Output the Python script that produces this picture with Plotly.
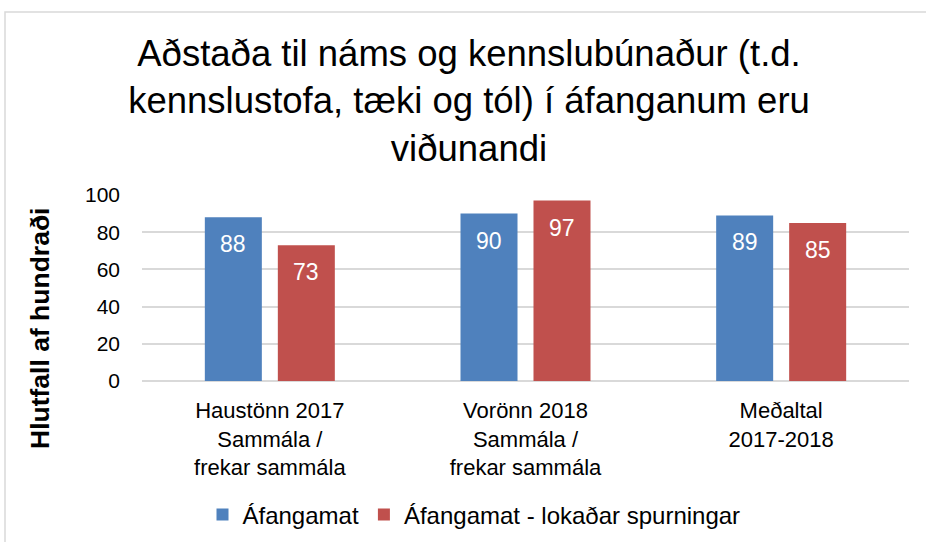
import plotly.graph_objects as go

categories = ["Haustönn 2017<br>Sammála /<br>frekar sammála",
              "Vorönn 2018<br>Sammála /<br>frekar sammála",
              "Meðaltal<br>2017-2018"]
afangamat = [88, 90, 89]
lokadar = [73, 97, 85]
series_names = ["Áfangamat", "Áfangamat - lokaðar spurningar"]
y_ticks = [0, 20, 40, 60, 80, 100]

FONT = "Liberation Sans, Arial, sans-serif"
COLORS = ["#4f81bd", "#c0504d"]

fig = go.Figure()
for name, vals, col in zip(series_names, [afangamat, lokadar], COLORS):
    fig.add_trace(go.Bar(x=categories, y=vals, name=name,
                         marker=dict(color=col, line=dict(width=0))))

L, R, T, B = 142, 17, 195, 161
W, H = 926, 542
pw, ph = W - L - R, H - T - B

def px(x):
    return (x - L) / pw

def py(y):
    return (H - B - y) / ph

annotations = [dict(text="<b>Hlutfall af hundraði</b>", textangle=-90, xref="paper", yref="paper",
                    x=px(40), y=py(329), xanchor="center", yanchor="middle", showarrow=False,
                    font=dict(size=26.5, family=FONT))]
for vals, shift in [(afangamat, -36.5), (lokadar, 36.5)]:
    for c, v in zip(categories, vals):
        annotations.append(dict(x=c, y=v, xref="x", yref="y", text=str(v), showarrow=False,
                                xanchor="center", yanchor="top", xshift=shift, yshift=-12,
                                font=dict(size=23, color="white", family=FONT)))

fig.update_layout(
    width=W, height=H,
    margin=dict(l=L, r=R, t=T, b=B, autoexpand=False),
    paper_bgcolor="white", plot_bgcolor="white",
    font=dict(family=FONT, color="#000000"),
    barmode="group", bargap=0.429, bargroupgap=0.219,
    title=dict(text="Aðstaða til náms og kennslubúnaður (t.d.<br>kennslustofa, tæki og tól) í áfanganum eru<br>viðunandi",
               x=px(469), xref="paper", xanchor="center",
               y=1 - 66 / H, yref="container", yanchor="middle",
               font=dict(size=36.5, family=FONT, color="#000000")),
    yaxis=dict(range=[0, 100], tickvals=y_ticks, showgrid=True, gridcolor="#d9d9d9",
               gridwidth=1.5, zeroline=True, zerolinecolor="#d9d9d9", zerolinewidth=1.5,
               tickfont=dict(size=21, family=FONT), ticks="", ticklabelstandoff=21,
               showline=False, automargin=False),
    xaxis=dict(tickfont=dict(size=22, family=FONT), showline=False, ticks="",
               ticklabelstandoff=14, automargin=False),
    showlegend=True,
    legend=dict(orientation="h", x=px(474), xanchor="center", y=py(515), yanchor="middle",
                font=dict(size=24, family=FONT), itemwidth=30, traceorder="normal"),
    shapes=[dict(type="rect", xref="paper", yref="paper",
                 x0=px(5), x1=px(935), y0=py(550), y1=py(12),
                 line=dict(color="#d9d9d9", width=1.5), fillcolor="rgba(0,0,0,0)", layer="below")],
    annotations=annotations,
)

fig.write_html("out.html", config={"displayModeBar": False},
               post_script="document.body.style.margin='0px';")
